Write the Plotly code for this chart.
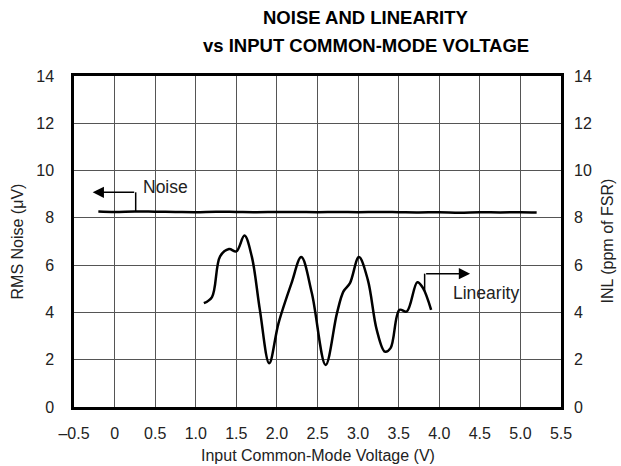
import plotly.graph_objects as go

# Noise (left axis, µV rms) vs input common-mode voltage
noise_v = [-0.2, 0.0, 0.25, 0.5, 0.75, 1.0, 1.25, 1.5, 1.75, 2.0, 2.25, 2.5,
           2.75, 3.0, 3.25, 3.5, 3.75, 4.0, 4.25, 4.5, 4.75, 5.0, 5.2]
noise_uv = [8.27, 8.25, 8.27, 8.26, 8.25, 8.24, 8.26, 8.25, 8.24, 8.25, 8.25, 8.24,
            8.25, 8.24, 8.25, 8.24, 8.23, 8.24, 8.22, 8.24, 8.23, 8.24, 8.23]

# Integral nonlinearity (right axis, ppm of FSR)
inl_v = [1.10, 1.20, 1.30, 1.41, 1.50, 1.60, 1.69, 1.79, 1.905, 2.02, 2.18, 2.30,
         2.43, 2.60, 2.74, 2.82, 2.90, 3.01, 3.12, 3.23, 3.33, 3.40, 3.51, 3.60,
         3.73, 3.80, 3.90]
inl_ppm = [4.39, 4.65, 6.37, 6.68, 6.58, 7.25, 6.37, 4.11, 1.85, 3.55, 5.24, 6.34,
           4.82, 1.78, 3.97, 4.89, 5.24, 6.34, 5.38, 3.26, 2.34, 2.49, 4.11, 4.04,
           5.28, 5.03, 4.11]

x_ticks = [-0.5, 0, 0.5, 1.0, 1.5, 2.0, 2.5, 3.0, 3.5, 4.0, 4.5, 5.0, 5.5]
x_tick_text = ["\u20130.5", "0", "0.5", "1.0", "1.5", "2.0", "2.5", "3.0", "3.5",
               "4.0", "4.5", "5.0", "5.5"]
y_ticks = [0, 2, 4, 6, 8, 10, 12, 14]

FONT = "Liberation Sans, Arial, sans-serif"
GRID = "#555555"
TXT = "#222222"

fig = go.Figure()
fig.add_trace(go.Scatter(x=noise_v, y=noise_uv, mode="lines", yaxis="y",
                         line=dict(color="black", width=2.5, shape="spline"),
                         showlegend=False, hoverinfo="skip"))
fig.add_trace(go.Scatter(x=inl_v, y=inl_ppm, mode="lines", yaxis="y2",
                         line=dict(color="black", width=2.5, shape="spline", smoothing=1.0),
                         showlegend=False, hoverinfo="skip"))

tick_font = dict(family=FONT, size=16, color=TXT)

fig.update_layout(
    width=621, height=466,
    margin=dict(l=74, r=60, t=76, b=59),
    paper_bgcolor="white", plot_bgcolor="white",
    font=dict(family=FONT, color=TXT),
    xaxis=dict(range=[-0.5, 5.5], tickvals=x_ticks, ticktext=x_tick_text,
               showgrid=True, gridcolor=GRID, gridwidth=1.2, zeroline=False,
               showline=True, linecolor="black", linewidth=2.5, mirror=True,
               ticks="", tickfont=tick_font, ticklabelstandoff=10),
    yaxis=dict(range=[0, 14], tickvals=y_ticks,
               showgrid=True, gridcolor=GRID, gridwidth=1.2, zeroline=False,
               showline=True, linecolor="black", linewidth=2.5, mirror=True,
               ticks="", tickfont=tick_font, ticklabelstandoff=14),
    yaxis2=dict(range=[0, 14], tickvals=y_ticks, overlaying="y", side="right",
                showgrid=False, zeroline=False, ticks="", showline=False,
                tickfont=tick_font, ticklabelstandoff=12),
)

# Two-line bold heading
fig.add_annotation(text="<b>NOISE AND LINEARITY</b>", xref="paper", yref="paper",
                   x=0.6, y=1.0, yshift=59, xanchor="center", yanchor="middle",
                   showarrow=False, font=dict(family=FONT, size=18.5, color="black"))
fig.add_annotation(text="<b>vs INPUT COMMON-MODE VOLTAGE</b>", xref="paper", yref="paper",
                   x=0.6, y=1.0, yshift=31, xanchor="center", yanchor="middle",
                   showarrow=False, font=dict(family=FONT, size=18.5, color="black"))

# Axis titles
fig.add_annotation(text="Input Common-Mode Voltage (V)", xref="paper", yref="paper",
                   x=0.5, y=0.0, yshift=-48, xanchor="center", yanchor="middle",
                   showarrow=False, font=dict(family=FONT, size=16, color=TXT))
fig.add_annotation(text="RMS Noise (\u03bcV)", xref="paper", yref="paper",
                   x=0.0, y=0.5, xshift=-57, xanchor="center", yanchor="middle",
                   textangle=-90, showarrow=False,
                   font=dict(family=FONT, size=16, color=TXT))
fig.add_annotation(text="INL (ppm of FSR)", xref="paper", yref="paper",
                   x=1.0, y=0.5, xshift=46, xanchor="center", yanchor="middle",
                   textangle=-90, showarrow=False,
                   font=dict(family=FONT, size=16, color=TXT))

# Noise callout: arrow pointing to the left axis
fig.add_shape(type="line", xref="x", yref="y", x0=0.26, y0=8.26, x1=0.26, y1=9.08,
              line=dict(color="black", width=1.5))
fig.add_annotation(x=-0.27, y=9.08, ax=0.26, ay=9.08, xref="x", yref="y",
                   axref="x", ayref="y", text="", showarrow=True,
                   arrowhead=2, arrowsize=1.5, arrowwidth=1.5, arrowcolor="black")
fig.add_annotation(x=0.33, y=9.3, xref="x", yref="y", text="Noise", showarrow=False,
                   xanchor="left", yanchor="middle",
                   font=dict(family=FONT, size=17.5, color=TXT))

# Linearity callout: arrow pointing to the right axis
fig.add_shape(type="line", xref="x", yref="y2", x0=3.82, y0=4.9, x1=3.82, y1=5.64,
              line=dict(color="black", width=1.5))
fig.add_annotation(x=4.38, y=5.64, ax=3.82, ay=5.64, xref="x", yref="y2",
                   axref="x", ayref="y2", text="", showarrow=True,
                   arrowhead=2, arrowsize=1.5, arrowwidth=1.5, arrowcolor="black")
fig.add_annotation(x=4.15, y=4.83, xref="x", yref="y2", text="Linearity", showarrow=False,
                   xanchor="left", yanchor="middle",
                   font=dict(family=FONT, size=17.5, color=TXT))

fig.write_html("out.html")
